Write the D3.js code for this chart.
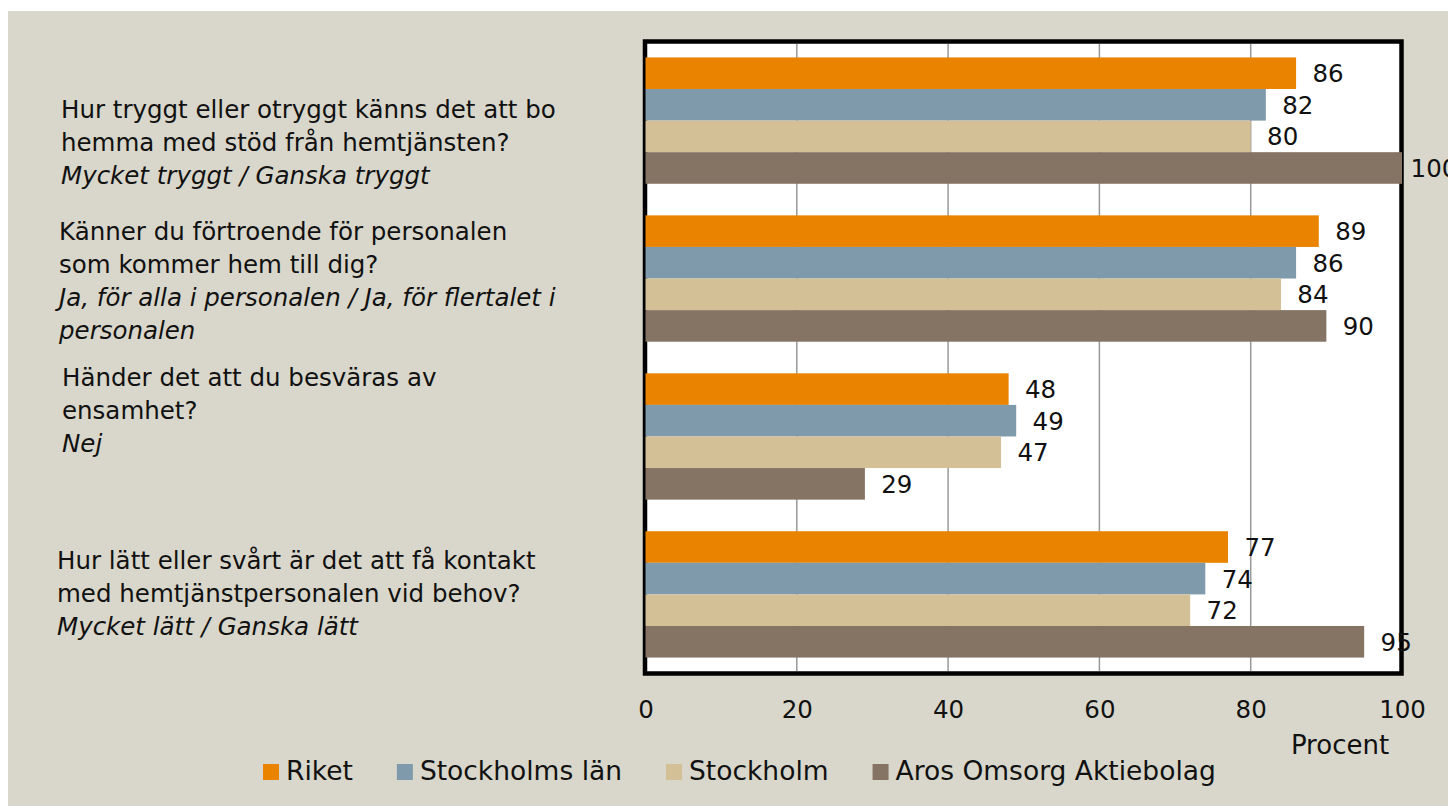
<!DOCTYPE html>
<html>
<head>
<meta charset="utf-8">
<script src="https://cdn.jsdelivr.net/npm/d3@7"></script>
<style>
  html, body { margin: 0; padding: 0; background: #ffffff; }
  svg { display: block; }
  text { font-family: "DejaVu Sans", sans-serif; fill: #111; }
</style>
</head>
<body>
<svg id="chart" width="1448" height="806"></svg>
<script>
// ---------- data ----------
const categories = ["trygghet", "fortroende", "ensamhet", "kontakt"];
const questionLines = [
  [["Hur tryggt eller otryggt känns det att bo", false], ["hemma med stöd från hemtjänsten?", false], ["Mycket tryggt / Ganska tryggt", true]],
  [["Känner du förtroende för personalen", false], ["som kommer hem till dig?", false], ["Ja, för alla i personalen / Ja, för flertalet i", true], ["personalen", true]],
  [["Händer det att du besväras av", false], ["ensamhet?", false], ["Nej", true]],
  [["Hur lätt eller svårt är det att få kontakt", false], ["med hemtjänstpersonalen vid behov?", false], ["Mycket lätt / Ganska lätt", true]]
];
const seriesNames = ["Riket", "Stockholms län", "Stockholm", "Aros Omsorg Aktiebolag"];
const riket = [86, 89, 48, 77];
const stockholmsLan = [82, 86, 49, 74];
const stockholm = [80, 84, 47, 72];
const aros = [100, 90, 29, 95];
const xTicks = [0, 20, 40, 60, 80, 100];
const xTitle = "Procent";

// ---------- style / layout ----------
const colors = ["#E98300", "#7F9AAB", "#D4C096", "#857363"];
const seriesValues = [riket, stockholmsLan, stockholm, aros];
const labelOffsets = [21, 2, -26, -1];  // text block vertical shift vs band centre
const labelX = [61, 59, 62, 57];
const fs = 24.5;
const lineH = 33;

const svg = d3.select("#chart");
svg.append("rect").attr("x", 8).attr("y", 11).attr("width", 1440).attr("height", 795).attr("fill", "#D9D7CB");

const x = d3.scaleLinear().domain([0, 100]).range([645.5, 1402]);
const yTop = 44, yBot = 671;
const y = d3.scaleBand().domain(categories).range([yTop, yBot]).paddingInner(0.2).paddingOuter(0.085);
const ys = d3.scaleBand().domain(d3.range(seriesNames.length)).range([0, y.bandwidth()]);

// plot area
svg.append("rect").attr("x", 645).attr("y", 41.5).attr("width", 756.5).attr("height", 632)
  .attr("fill", "#ffffff").attr("stroke", "#000").attr("stroke-width", 4.5);

// gridlines
svg.append("g").selectAll("line").data(xTicks.filter(t => t > 0 && t < 100)).join("line")
  .attr("x1", d => x(d)).attr("x2", d => x(d)).attr("y1", yTop).attr("y2", yBot)
  .attr("stroke", "#999").attr("stroke-width", 1.5);

// bars
const rows = [];
categories.forEach((c, ci) => seriesValues.forEach((vals, si) => rows.push({c, ci, si, v: vals[ci]})));
svg.append("g").selectAll("rect").data(rows).join("rect")
  .attr("x", x(0)).attr("y", d => y(d.c) + ys(d.si))
  .attr("width", d => x(d.v) - x(0)).attr("height", ys.bandwidth())
  .attr("fill", d => colors[d.si]);

// value labels
svg.append("g").selectAll("text").data(rows).join("text")
  .attr("x", d => x(d.v) + 32).attr("y", d => y(d.c) + ys(d.si) + ys.bandwidth() / 2 + 9)
  .attr("text-anchor", "middle").attr("font-size", fs).text(d => d.v);

// x axis tick labels
const axis = d3.axisBottom(x).tickValues(xTicks).tickSize(0).tickPadding(0);
const ag = svg.append("g").attr("transform", `translate(0, 701)`).call(axis);
ag.select(".domain").remove();
ag.selectAll("text").attr("font-size", fs).attr("font-family", "DejaVu Sans").attr("fill", "#111").attr("dy", "0.7em");
svg.append("text").attr("x", 1340).attr("y", 754).attr("text-anchor", "middle").attr("font-size", 26).text(xTitle);

// category labels
categories.forEach((c, ci) => {
  const lines = questionLines[ci];
  const cy = y(c) + y.bandwidth() / 2 + labelOffsets[ci];
  const startY = cy - (lines.length - 1) * lineH / 2 + 9;
  const t = svg.append("text").attr("font-size", fs);
  lines.forEach((ln, li) => {
    t.append("tspan").attr("x", labelX[ci]).attr("y", startY + li * lineH)
      .attr("font-style", ln[1] ? "italic" : "normal").text(ln[0]);
  });
});

// legend
const lg = svg.append("g").attr("transform", "translate(263, 780)");
let lx = 0;
seriesNames.forEach((n, i) => {
  const g = lg.append("g").attr("transform", `translate(${lx},0)`);
  g.append("rect").attr("x", 0).attr("y", -16).attr("width", 16).attr("height", 16).attr("fill", colors[i]);
  const tx = g.append("text").attr("x", 23).attr("y", 0).attr("font-size", 26.5).text(n);
  const w = tx.node().getComputedTextLength();
  lx += 23 + w + 44;
});
</script>
</body>
</html>
